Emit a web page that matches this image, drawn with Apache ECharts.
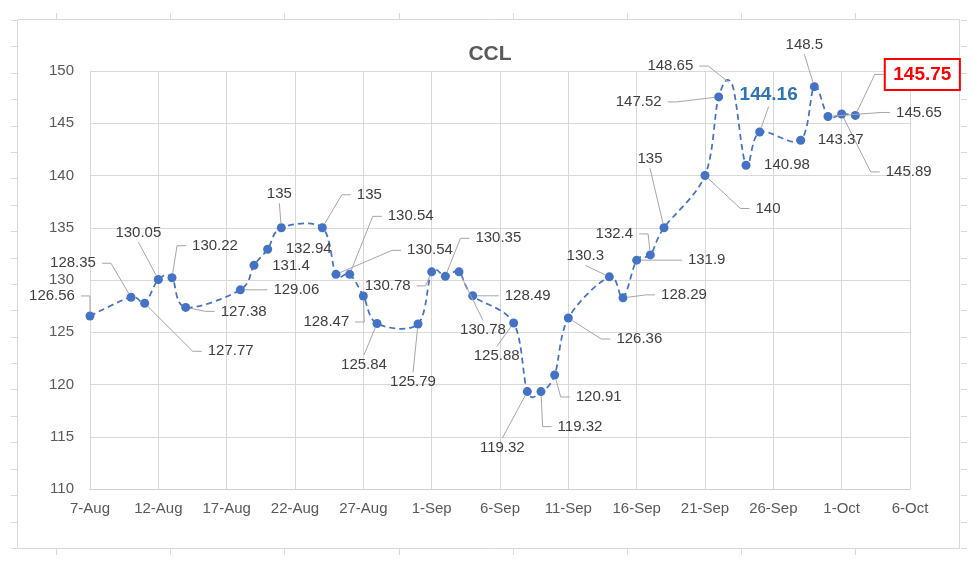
<!DOCTYPE html>
<html><head><meta charset="utf-8">
<script src="https://cdn.jsdelivr.net/npm/echarts@6/dist/echarts.min.js"></script>
<style>html,body{margin:0;padding:0;background:#fff}#c{width:980px;height:566px}</style>
</head><body><div id="c"></div>
<script>
// ---------------- data ----------------
const chartTitle = 'CCL';
const dates = ['2020-08-07','2020-08-10','2020-08-11','2020-08-12','2020-08-13','2020-08-14',
  '2020-08-18','2020-08-19','2020-08-20','2020-08-21','2020-08-24','2020-08-25','2020-08-26',
  '2020-08-27','2020-08-28','2020-08-31','2020-09-01','2020-09-02','2020-09-03','2020-09-04',
  '2020-09-07','2020-09-08','2020-09-09','2020-09-10','2020-09-11','2020-09-14','2020-09-15',
  '2020-09-16','2020-09-17','2020-09-18','2020-09-21','2020-09-22','2020-09-23','2020-09-24',
  '2020-09-25','2020-09-28','2020-09-29','2020-09-30','2020-10-01','2020-10-02'];
const values = [126.56,128.35,127.77,130.05,130.22,127.38,
  129.06,131.4,132.94,135,135,130.54,130.54,
  128.47,125.84,125.79,130.78,130.35,130.78,128.49,
  125.88,119.32,119.32,120.91,126.36,130.3,128.29,
  131.9,132.4,135,140,147.52,148.65,140.98,
  144.16,143.37,148.5,145.65,145.89,145.75];
const xStartDate = '2020-08-07';
const xEndDate = '2020-10-06';
const xTickDays = 5;
const yMin = 110, yMax = 150, yStep = 5;
const monthNames = ['Jan','Feb','Mar','Apr','May','Jun','Jul','Aug','Sep','Oct','Nov','Dec'];

// ---------------- label layout (pixel offsets from the marker, leader side) ----------------
const labelPlace = [
  [-38,-20,'R'],[-58,-34,'R'],[86,48,'L'],[-20,-47,'B'],[43,-32,'L'],[58,4,'L'],
  [56,0,'L'],[37,0,''],[41,0,''],[-2,-34,'B'],[47,-33,'L'],[94,-24,'L'],[61,-58,'L'],
  [-37,26,'R'],[-13,41,'T'],[-5,58,'T'],[-44,14,'R'],[53,-38,'L'],[24,58,'T'],[55,0,'L'],
  [-17,33,'T'],[-25,56,'T'],[39,35,'L'],[44,22,'L'],[71,21,'L'],[-24,-21,'B'],[61,-3,'L'],
  [70,0,'L'],[-36,-21,'R'],[-14,-69,'B'],[63,33,'L'],[-80,5,'R'],[-62,-19,'R'],[41,0,''],
  [9,-37,'B'],[40,0,''],[-10,-42,'B'],[91,-4,'L'],[67,58,'L'],[67,-41,'L']
];
const hiddenMarker = 32;      // 148.65 has no visible marker
const blueLabel = 34;         // 144.16
const redBoxLabel = 39;       // 145.75

// ---------------- helpers ----------------
const FONT = '"Liberation Sans", Arial, sans-serif';
const DAY = 86400000;
function toDay(s){ return Math.round((Date.parse(s+'T00:00:00Z') - Date.parse(xStartDate+'T00:00:00Z'))/DAY); }
const xMax = toDay(xEndDate);
const seriesData = dates.map((d,i)=>[toDay(d), values[i]]);
const mctx = document.createElement('canvas').getContext('2d');
function measure(t, font){ mctx.font = font; return mctx.measureText(t).width; }
function styleFor(i){
  if (i === blueLabel) return {size:19, weight:'bold', color:'#2E75B6', box:null};
  if (i === redBoxLabel) return {size:19, weight:'bold', color:'#FF0000', box:{px:8.5, py:6}};
  return {size:15, weight:'normal', color:'#404040', box:null};
}

// decorative sheet-cell tick marks outside the chart frame
const frame = {x:17.5, y:19.5, w:942, h:529};
const deco = [{type:'rect', shape:{x:frame.x,y:frame.y,width:frame.w,height:frame.h},
  style:{fill:null, stroke:'#d9d9d9', lineWidth:1}, silent:true}];
for (let k=0;k<21;k++){
  const y = Math.round(19.9 + 26.4*k) + 0.5;
  deco.push({type:'line', shape:{x1:11,y1:y,x2:17,y2:y}, style:{stroke:'#d9d9d9', lineWidth:1}, silent:true});
  deco.push({type:'line', shape:{x1:961,y1:y,x2:967,y2:y}, style:{stroke:'#d9d9d9', lineWidth:1}, silent:true});
}
for (let k=0;k<8;k++){
  const x = Math.round(56 + 114.2*k) + 0.5;
  deco.push({type:'line', shape:{x1:x,y1:13,x2:x,y2:19}, style:{stroke:'#d9d9d9', lineWidth:1}, silent:true});
  deco.push({type:'line', shape:{x1:x,y1:549,x2:x,y2:555}, style:{stroke:'#d9d9d9', lineWidth:1}, silent:true});
}

const chart = echarts.init(document.getElementById('c'), null, {renderer:'canvas'});
chart.setOption({
  animation:false,
  backgroundColor:'#ffffff',
  title:{text:chartTitle, left:'center', top:39,
    textStyle:{fontFamily:FONT, fontSize:21, fontWeight:'bold', color:'#595959'}},
  grid:{left:90, right:70, top:71, bottom:77, containLabel:false},
  xAxis:{type:'value', min:0, max:xMax, interval:xTickDays,
    axisLine:{show:true, lineStyle:{color:'#d0d0d0', width:1}},
    axisTick:{show:false},
    splitLine:{show:true, lineStyle:{color:'#d9d9d9', width:1}},
    axisLabel:{margin:12, color:'#595959', fontFamily:FONT, fontSize:15,
      formatter:v=>{const d=new Date(Date.parse(xStartDate+'T00:00:00Z')+v*DAY);
        return d.getUTCDate()+'-'+monthNames[d.getUTCMonth()];}}},
  yAxis:{type:'value', min:yMin, max:yMax, interval:yStep,
    axisLine:{show:false}, axisTick:{show:false},
    splitLine:{show:true, lineStyle:{color:'#d9d9d9', width:1}},
    axisLabel:{margin:16, color:'#595959', fontFamily:FONT, fontSize:15}},
  graphic:deco,
  series:[
    // smoothed dashed line (Catmull-Rom style, like the spreadsheet smoothing), drawn through the axis scales
    {type:'custom', data:seriesData, encode:{x:0,y:1}, z:2, clip:false, silent:true,
      renderItem:function(params, api){
        if (params.dataIndex !== 0) return null;
        const pts = seriesData.map(p=>api.coord(p));
        let d = 'M'+pts[0][0]+' '+pts[0][1];
        for (let i=0;i<pts.length-1;i++){
          const p0 = pts[i-1]||pts[i], p1 = pts[i], p2 = pts[i+1], p3 = pts[i+2]||pts[i+1];
          const c1x = p1[0]+(p2[0]-p0[0])/6, c1y = p1[1]+(p2[1]-p0[1])/6;
          const c2x = p2[0]-(p3[0]-p1[0])/6, c2y = p2[1]-(p3[1]-p1[1])/6;
          d += ' C'+c1x+' '+c1y+' '+c2x+' '+c2y+' '+p2[0]+' '+p2[1];
        }
        return {type:'path', shape:{pathData:d},
          style:{fill:null, stroke:'#4472C4', lineWidth:1.75, lineDash:[6,4]}};
      }},
    {type:'scatter', data:seriesData.map((p,i)=> i===hiddenMarker ? {value:p, symbolSize:0} : p),
      symbol:'circle', symbolSize:9, itemStyle:{color:'#4472C4', opacity:1}, z:3, silent:true},
    {type:'custom', data:seriesData, encode:{x:0,y:1}, z:4, clip:false, silent:true,
      renderItem:function(params, api){
        const i = params.dataIndex;
        const p = api.coord([api.value(0), api.value(1)]);
        const [dx, dy, side] = labelPlace[i];
        const st = styleFor(i);
        const font = st.weight+' '+st.size+'px '+FONT;
        const text = String(values[i]);
        const w = measure(text, font);
        const h = st.size;
        const cx = p[0]+dx, cy = p[1]+dy;
        const children = [];
        if (side){
          const gapX = st.box ? st.box.px + 1 : 6;
          const gapY = st.box ? st.box.py + 1 : 2;
          const stub = 9;
          let pts;
          if (side==='L'){ const sx = cx - w/2 - gapX; pts = [[sx,cy],[sx-stub,cy]]; }
          else if (side==='R'){ const sx = cx + w/2 + gapX; pts = [[sx,cy],[sx+stub,cy]]; }
          else if (side==='T'){ pts = [[cx, cy - h/2 - gapY]]; }
          else { pts = [[cx, cy + h/2 + gapY]]; }
          const last = pts[pts.length-1];
          const vx = p[0]-last[0], vy = p[1]-last[1], len = Math.hypot(vx,vy);
          const r = 4.5;
          if (len > r) pts.push([p[0]-vx/len*r, p[1]-vy/len*r]);
          children.push({type:'polyline', shape:{points:pts}, style:{stroke:'#a6a6a6', lineWidth:1, fill:null}, z2:0});
        }
        if (st.box){
          children.push({type:'rect', shape:{x:cx-w/2-st.box.px, y:cy-h/2-st.box.py, width:w+2*st.box.px, height:h+2*st.box.py},
            style:{fill:'#ffffff', stroke:'#FF0000', lineWidth:2}, z2:1});
        }
        children.push({type:'text', x:cx, y:cy, z2:2, style:{text:text, font:font, fill:st.color, align:'center', verticalAlign:'middle'}});
        return {type:'group', children:children};
      }}
  ]
});
</script></body></html>
